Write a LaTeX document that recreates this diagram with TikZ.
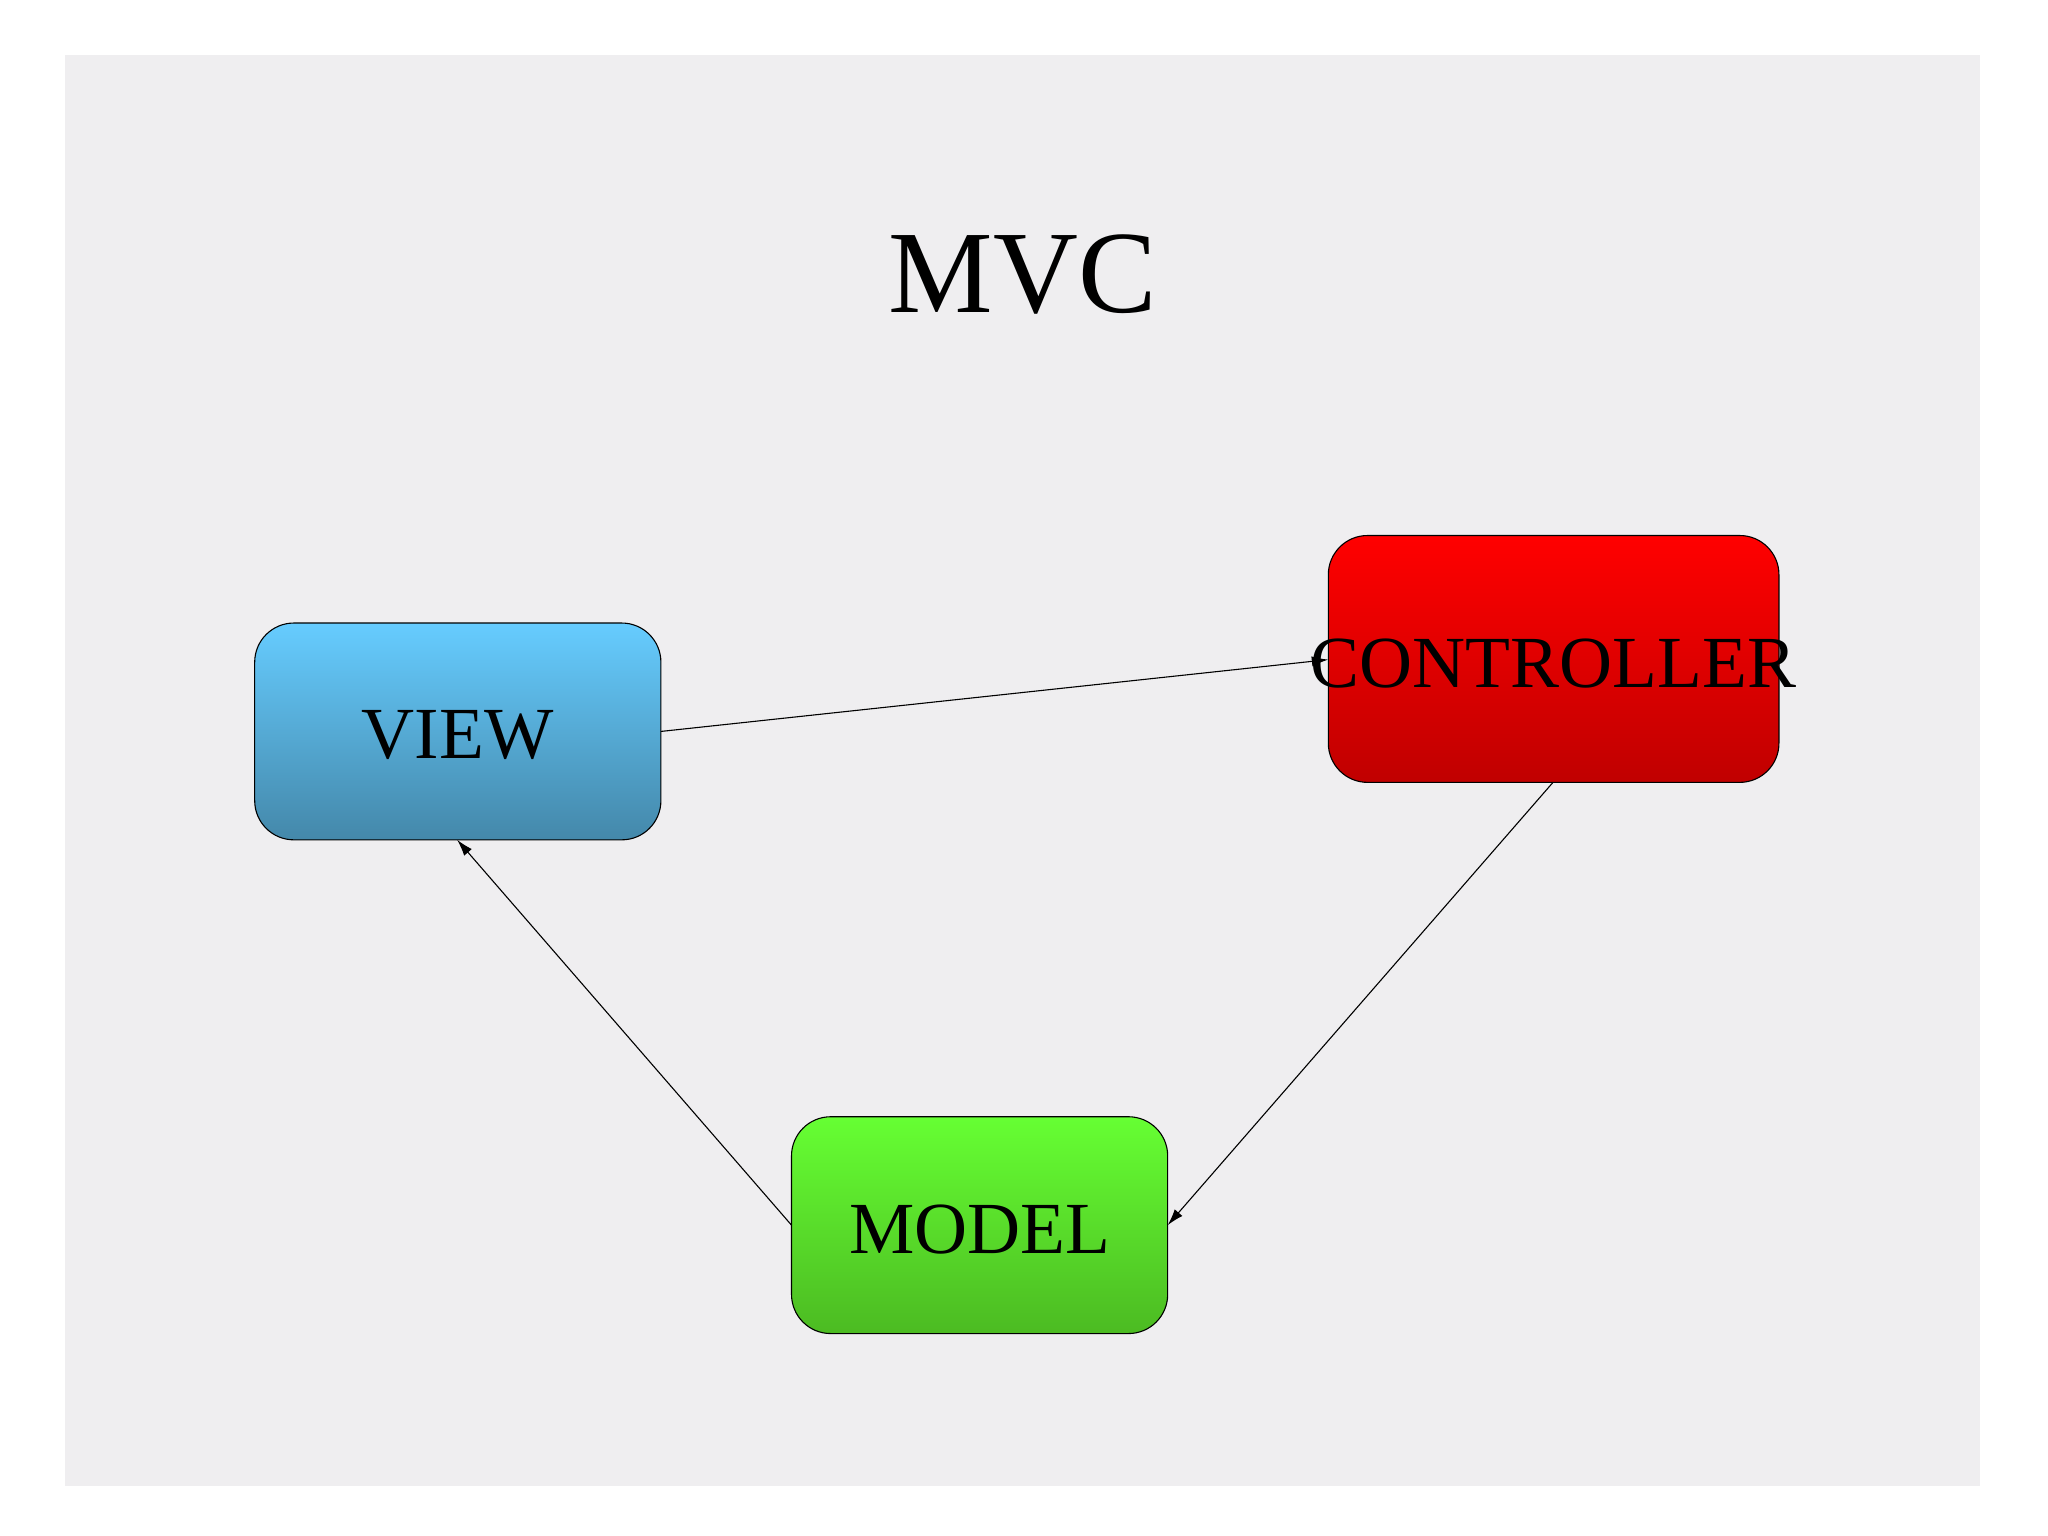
\documentclass[tikz,border=0pt]{standalone}
\usepackage{fontspec}
\setmainfont{Liberation Serif}
\usetikzlibrary{arrows.meta}
\begin{document}
\begin{tikzpicture}[x=0.05cm,y=-0.05cm,
  box/.style={draw=black,line width=1.2pt,rounded corners=30*0.05cm},
  lbl/.style={font=\fontsize{80}{90}\selectfont},
  conn/.style={line width=1.2pt,-{Latex[length=18pt,width=11pt]}}]
\useasboundingbox (0,0) rectangle (1568,1176);
\fill[white] (0,0) rectangle (1568,1176);
\fill[fill={rgb,255:red,239;green,238;blue,240}] (50,42) rectangle (1516,1138);
\node[font=\fontsize{128}{140}\selectfont] (title) at (783,210) {MVC};
\shade[box,top color={rgb,255:red,102;green,204;blue,255},bottom color={rgb,255:red,68;green,136;blue,170}] (195,477) rectangle (506,643);
\node[lbl] (view) at (350.5,563) {VIEW};
\coordinate (vE) at (506,560); \coordinate (vS) at (350,643);
\shade[box,top color={rgb,255:red,255;green,0;blue,0},bottom color={rgb,255:red,192;green,0;blue,0}] (1017,410) rectangle (1362,599);
\node[lbl] (ctrl) at (1189.5,508) {CONTROLLER};
\coordinate (cW) at (1017,505); \coordinate (cS) at (1189,599);
\shade[box,top color={rgb,255:red,102;green,255;blue,51},bottom color={rgb,255:red,76;green,187;blue,34}] (606,855) rectangle (894,1021);
\node[lbl] (model) at (750,941) {MODEL};
\coordinate (mE) at (894,938); \coordinate (mW) at (606,938);
\draw[conn] (vE) -- (cW);
\draw[conn] (cS) -- (mE);
\draw[conn] (mW) -- (vS);
\end{tikzpicture}
\end{document}
